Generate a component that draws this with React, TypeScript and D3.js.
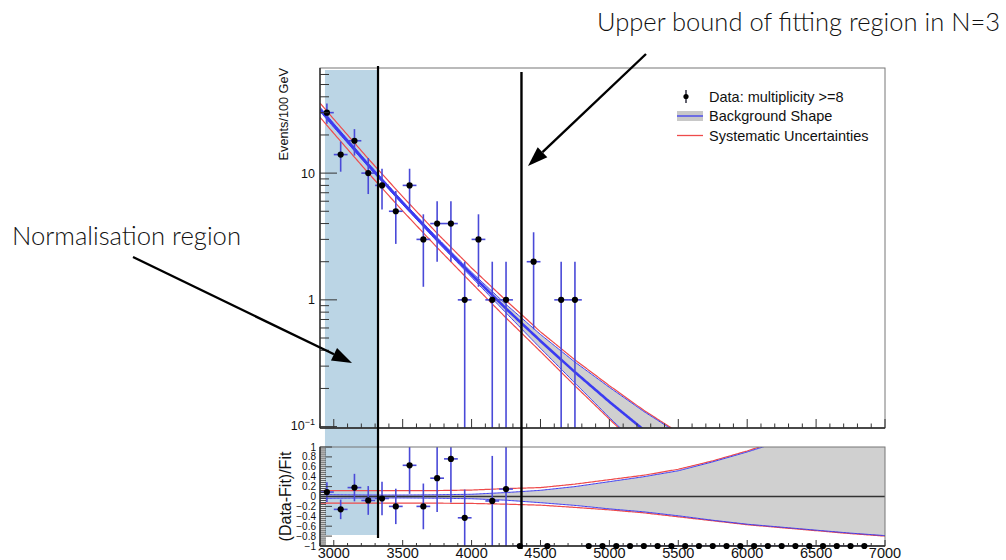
import React from 'react';
import * as d3 from 'd3';

// ---------------- data ----------------
const xDomain = [2900, 7000];

// events per 100 GeV bin (bin centres), only non-empty bins are drawn in the top panel
const dataMass = [2950, 3050, 3150, 3250, 3350, 3450, 3550, 3650, 3750, 3850, 3950, 4050, 4150, 4250, 4450, 4650, 4750];
const dataCounts = [30, 14, 18, 10, 8, 5, 8, 3, 4, 4, 1, 3, 1, 1, 2, 1, 1];

// background fit shape
const fitMass = [2900, 3000, 3250, 3500, 3750, 4000, 4250, 4500, 4750, 5000, 5250, 5500, 5750, 6000, 6500, 7000];
const fitValue = [31.9, 23.8, 11.6, 5.82, 2.99, 1.58, 0.853, 0.474, 0.269, 0.157, 0.094, 0.058, 0.036, 0.023, 0.01, 0.005];

// relative uncertainty bands
const bandMass = [2900, 3000, 3250, 3500, 3750, 4000, 4250, 4500, 4750, 5000, 5250, 5500, 5750, 6000, 6250, 6500, 6750, 7000];
const fitUp = [0.04, 0.035, 0.03, 0.03, 0.035, 0.045, 0.08, 0.125, 0.2, 0.3, 0.4, 0.52, 0.7, 0.9, 1.12, 1.38, 1.65, 1.95];
const fitLo = [-0.04, -0.035, -0.03, -0.03, -0.035, -0.045, -0.075, -0.125, -0.18, -0.25, -0.31, -0.39, -0.48, -0.56, -0.62, -0.68, -0.74, -0.79];
const sysUp = [0.12, 0.12, 0.12, 0.12, 0.12, 0.13, 0.16, 0.18, 0.25, 0.34, 0.43, 0.55, 0.72, 0.92, 1.15, 1.4, 1.67, 1.97];
const sysLo = [-0.135, -0.135, -0.135, -0.135, -0.135, -0.14, -0.155, -0.175, -0.22, -0.27, -0.33, -0.41, -0.49, -0.57, -0.63, -0.69, -0.75, -0.8];

// (Data-Fit)/Fit points shown in the lower panel
const ratioMass = [2950, 3050, 3150, 3250, 3350, 3450, 3550, 3650, 3750, 3850, 3950, 4150, 4250, 4350, 4550,
  4850, 4950, 5050, 5150, 5250, 5350, 5450, 5550, 5650, 5750, 5850, 5950, 6050, 6150, 6250, 6350, 6450, 6550, 6650, 6750, 6850];
const ratioValue = [0.09, -0.26, 0.18, -0.08, -0.04, -0.2, 0.63, -0.2, 0.37, 0.76, -0.43, -0.09, 0.15, -1, -1,
  -1, -1, -1, -1, -1, -1, -1, -1, -1, -1, -1, -1, -1, -1, -1, -1, -1, -1, -1, -1, -1];

// axis ticks
const xTickLabels = [3000, 3500, 4000, 4500, 5000, 5500, 6000, 6500, 7000];
const ratioTickLabels = [1, 0.8, 0.6, 0.4, 0.2, 0, -0.2, -0.4, -0.6, -0.8, -1];
const topTickLabels = [10, 1];

// annotations (in GeV)
const normRegion = [2936, 3320];
const markerLines = [3321, 4362];

const legendItems = ['Data: multiplicity >=8', 'Background Shape', 'Systematic Uncertainties'];

// ---------------- component ----------------
const FONT = "'Liberation Sans', Arial, Helvetica, sans-serif";
const LIGHT = "'Helvetica Neue', Lato, Roboto, 'Open Sans', sans-serif";
const ERR = '#4a4ad8';
const BLUE = '#3b3bf2';
const RED = '#ee4b4b';

function arrowPts(x1: number, y1: number, x2: number, y2: number, len = 20, half = 7) {
  const dx = x2 - x1, dy = y2 - y1;
  const L = Math.hypot(dx, dy);
  const ux = dx / L, uy = dy / L;
  const bx = x2 - ux * len, by = y2 - uy * len;
  return { bx, by, pts: `${x2},${y2} ${bx - uy * half},${by + ux * half} ${bx + uy * half},${by - ux * half}` };
}

export default function App() {
  const L = 320, R = 885;
  const T1 = 68, B1 = 428;
  const T2 = 447, B2 = 546;
  const x = d3.scaleLinear().domain(xDomain).range([L, R]);
  const yTop = d3.scaleLog().domain([0.0975, 67.5]).range([B1, T1]);
  const yRat = d3.scaleLinear().domain([-1, 1]).range([B2, T2]);

  const logFit = d3.scaleLinear().domain(fitMass).range(fitValue.map((v) => Math.log10(v)));
  const fitAt = (m: number) => Math.pow(10, logFit(m));
  const mk = (arr: number[]) => d3.scaleLinear().domain(bandMass).range(arr);
  const fU = mk(fitUp), fL = mk(fitLo), sU = mk(sysUp), sL = mk(sysLo);
  const ms = d3.range(xDomain[0], xDomain[1] + 0.1, 10);

  const topLine = (f: (m: number) => number) =>
    d3.line<number>().x((m) => x(m)).y((m) => yTop(Math.max(f(m), 1e-4)))(ms) || '';
  const topArea = d3.area<number>().x((m) => x(m))
    .y0((m) => yTop(fitAt(m) * (1 + fL(m))))
    .y1((m) => yTop(fitAt(m) * (1 + fU(m))))(ms) || '';
  const ratLine = (f: (m: number) => number) =>
    d3.line<number>().x((m) => x(m)).y((m) => yRat(Math.min(Math.max(f(m), -1.5), 3)))(ms) || '';
  const ratArea = d3.area<number>().x((m) => x(m))
    .y0((m) => yRat(fL(m)))
    .y1((m) => yRat(Math.min(fU(m), 1.5)))(ms) || '';

  const countAt = (m: number) => {
    const i = dataMass.indexOf(m);
    return i >= 0 ? dataCounts[i] : 0;
  };

  const xMinor = d3.range(xDomain[0], xDomain[1] + 1, 100);
  const topMinor: number[] = [];
  [0.1, 1, 10].forEach((d) => { for (let k = 1; k <= 9; k++) { const v = k * d; if (v >= 0.0975 && v <= 67.5) topMinor.push(v); } });
  const ratMinor = d3.range(-25, 26);

  const a1 = arrowPts(133, 257, 352, 363);
  const a2 = arrowPts(646, 54, 528, 166);

  return (
    <svg width={1006} height={560} style={{ position: 'absolute', left: 0, top: 0, background: '#fff' }} fontFamily={FONT}>
      <defs>
        <clipPath id="clipTop"><rect x={L} y={T1} width={R - L} height={B1 - T1} /></clipPath>
        <clipPath id="clipRat"><rect x={L} y={T2} width={R - L} height={B2 - T2} /></clipPath>
      </defs>
      <rect x={0} y={0} width={1006} height={560} fill="#fff" />

      {/* normalisation region */}
      <rect x={x(normRegion[0])} y={70} width={x(normRegion[1]) - x(normRegion[0])} height={465} fill="rgb(187,213,229)" />

      {/* ---------- top panel ---------- */}
      <g clipPath="url(#clipTop)">
        <path d={topArea} fill="#c8c8c8" fillOpacity={0.85} />
        <path d={topLine((m) => fitAt(m) * (1 + sU(m)))} fill="none" stroke={RED} strokeWidth={1.2} />
        <path d={topLine((m) => fitAt(m) * (1 + sL(m)))} fill="none" stroke={RED} strokeWidth={1.2} />
        <path d={topLine((m) => fitAt(m) * (1 + fU(m)))} fill="none" stroke={BLUE} strokeWidth={1} />
        <path d={topLine((m) => fitAt(m) * (1 + fL(m)))} fill="none" stroke={BLUE} strokeWidth={1} />
        <path d={topLine(fitAt)} fill="none" stroke={BLUE} strokeWidth={2.6} />
        {dataMass.map((m, i) => {
          const n = dataCounts[i];
          const e = Math.sqrt(n);
          const lo = n - e > 0.0975 ? yTop(n - e) : B1 + 5;
          return (
            <g key={m}>
              <line x1={x(m)} x2={x(m)} y1={yTop(n + e)} y2={lo} stroke={ERR} strokeWidth={1.6} />
              <line x1={x(m - 50)} x2={x(m + 50)} y1={yTop(n)} y2={yTop(n)} stroke={ERR} strokeWidth={1.6} />
              <circle cx={x(m)} cy={yTop(n)} r={3.1} fill="#000" />
            </g>
          );
        })}
      </g>
      {/* top frame */}
      <rect x={L} y={T1} width={R - L} height={B1 - T1} fill="none" stroke="#777" strokeWidth={1} />
      <line x1={L} x2={L} y1={T1} y2={B1} stroke="#222" strokeWidth={1.3} />
      <line x1={L} x2={R} y1={B1} y2={B1} stroke="#222" strokeWidth={1.3} />
      {xMinor.map((m) => (
        <line key={'tx' + m} x1={x(m)} x2={x(m)} y1={B1} y2={B1 - (m % 500 === 0 ? 9 : 4.5)} stroke="#333" strokeWidth={1} />
      ))}
      {topMinor.map((v) => {
        const major = Math.abs(Math.log10(v) - Math.round(Math.log10(v))) < 1e-6;
        return <line key={'ty' + v} x1={L} x2={L + (major ? 17 : 9)} y1={yTop(v)} y2={yTop(v)} stroke="#333" strokeWidth={1} />;
      })}
      {topTickLabels.map((v) => (
        <text key={'tl' + v} x={315} y={yTop(v) + 4.5} textAnchor="end" fontSize={12.5} fill="#111">{v}</text>
      ))}
      <text x={315} y={yTop(0.1) + 3.5} textAnchor="end" fontSize={12.5} fill="#111">
        10<tspan dy={-5} fontSize={9}>−1</tspan>
      </text>
      <text transform={`translate(288,${T1}) rotate(-90)`} textAnchor="end" fontSize={12.7} fill="#111">Events/100 GeV</text>

      {/* legend */}
      <line x1={686} x2={686} y1={90} y2={103} stroke="#223" strokeWidth={1.4} />
      <circle cx={686} cy={96.5} r={2.6} fill="#000" />
      <rect x={677} y={111} width={26} height={10} fill="#c8c8c8" />
      <line x1={677} x2={703} y1={116} y2={116} stroke={BLUE} strokeWidth={1.3} />
      <line x1={677} x2={703} y1={135.5} y2={135.5} stroke={RED} strokeWidth={1.3} />
      {legendItems.map((t, i) => (
        <text key={t} x={709} y={101.5 + i * 19.5} fontSize={14.5} fill="#111">{t}</text>
      ))}

      {/* ---------- ratio panel ---------- */}
      <g clipPath="url(#clipRat)">
        <path d={ratArea} fill="#c8c8c8" fillOpacity={0.85} />
        <path d={ratLine(sU)} fill="none" stroke={RED} strokeWidth={1.2} />
        <path d={ratLine(sL)} fill="none" stroke={RED} strokeWidth={1.2} />
        <path d={ratLine(fU)} fill="none" stroke={BLUE} strokeWidth={1} />
        <path d={ratLine(fL)} fill="none" stroke={BLUE} strokeWidth={1} />
        <line x1={L} x2={R} y1={yRat(0)} y2={yRat(0)} stroke="#333" strokeWidth={1.3} />
        {ratioMass.map((m, i) => {
          const r = ratioValue[i];
          const n = countAt(m);
          const e = n > 0 ? (1 + r) / Math.sqrt(n) : 0;
          return (
            <g key={'rv' + m}>
              {e > 0 && <line x1={x(m)} x2={x(m)} y1={yRat(r + e)} y2={yRat(Math.max(r - e, -1.2))} stroke={ERR} strokeWidth={1.6} />}
              <line x1={x(m - 50)} x2={x(m + 50)} y1={yRat(r)} y2={yRat(r)} stroke={ERR} strokeWidth={1.6} />
            </g>
          );
        })}
      </g>
      <rect x={L} y={T2} width={R - L} height={B2 - T2} fill="none" stroke="#777" strokeWidth={1} />
      <line x1={L} x2={L} y1={T2} y2={B2} stroke="#222" strokeWidth={1.3} />
      <line x1={L} x2={R} y1={B2} y2={B2} stroke="#222" strokeWidth={1.3} />
      {xMinor.map((m) => (
        <line key={'bx' + m} x1={x(m)} x2={x(m)} y1={B2} y2={B2 - (m % 500 === 0 ? 6 : 3)} stroke="#333" strokeWidth={1} />
      ))}
      {ratMinor.map((i) => (
        <line key={'by' + i} x1={L} x2={L + (i % 5 === 0 ? 12 : 6)} y1={yRat(i * 0.04)} y2={yRat(i * 0.04)} stroke="#333" strokeWidth={0.9} />
      ))}
      {ratioMass.map((m, i) => (
        ratioValue[i] >= -1 && ratioValue[i] <= 1 ? <circle key={'rc' + m} cx={x(m)} cy={yRat(ratioValue[i])} r={3.1} fill="#000" /> : null
      ))}
      {ratioTickLabels.map((v) => (
        <text key={'rl' + v} x={316} y={yRat(v) + 3.5} textAnchor="end" fontSize={10} fill="#111">
          {v < 0 ? '−' + Math.abs(v) : String(v)}
        </text>
      ))}
      {xTickLabels.map((v) => (
        <text key={'xl' + v} x={x(v)} y={558} textAnchor="middle" fontSize={14.5} fill="#111">{v}</text>
      ))}
      <text transform={`translate(291,${(T2 + B2) / 2}) rotate(-90)`} textAnchor="middle" fontSize={16} fill="#111">(Data-Fit)/Fit</text>

      {/* ---------- annotations ---------- */}
      <line x1={x(markerLines[0])} x2={x(markerLines[0])} y1={66} y2={538} stroke="#000" strokeWidth={2.2} />
      <line x1={x(markerLines[1])} x2={x(markerLines[1])} y1={72} y2={549} stroke="#000" strokeWidth={2.4} />

      <line x1={133} y1={257} x2={a1.bx} y2={a1.by} stroke="#000" strokeWidth={2.4} />
      <polygon points={a1.pts} fill="#000" />
      <line x1={646} y1={54} x2={a2.bx} y2={a2.by} stroke="#000" strokeWidth={2.4} />
      <polygon points={a2.pts} fill="#000" />

      <text x={12} y={245} fontSize={25.5} fontWeight={300} fontFamily={LIGHT} fill="#111"
        textLength={229} lengthAdjust="spacingAndGlyphs">Normalisation region</text>
      <text x={597} y={31} fontSize={25.5} fontWeight={300} fontFamily={LIGHT} fill="#111"
        textLength={403} lengthAdjust="spacingAndGlyphs">Upper bound of fitting region in N=3</text>
    </svg>
  );
}
